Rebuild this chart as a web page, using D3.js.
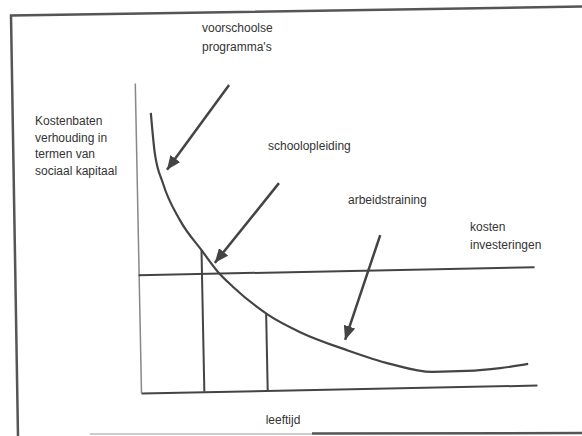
<!DOCTYPE html>
<html>
<head>
<meta charset="utf-8">
<script src="https://cdn.jsdelivr.net/npm/d3@7"></script>
<style>
  body { margin: 0; background: #fff; }
  text { font-family: "Liberation Sans", Arial, sans-serif; font-size: 12px; fill: #333; }
</style>
</head>
<body>
<div id="chart"></div>
<script>
// curve: return on investment by age
const ages = [3.9, 4.7, 6.6, 10.7, 16.1, 20.0, 23.8, 32.5, 40.5, 52.2, 63.0, 73.8, 82.4, 90.8, 97.9];
const returns = [90.3, 77.3, 67.5, 55.5, 45.5, 38.6, 33.6, 24.4, 18.6, 12.5, 7.8, 4.9, 5.0, 5.7, 6.9];
const costLevel = 38;
const stageAges = [16, 32];

// annotation arrows, in data units
const arrowFrom = [[23.8, 98.8], [35.9, 66.8], [61.2, 49.4]];
const arrowTo = [[7.7, 71.8], [19.3, 41.5], [51.8, 15.8]];

const yLabel = ["Kostenbaten", "verhouding in", "termen van", "sociaal kapitaal"];
const stageLabels = [["voorschoolse", "programma's"], ["schoolopleiding"], ["arbeidstraining"]];
const costLabel = ["kosten", "investeringen"];
const xLabel = "leeftijd";

const width = 582, height = 436;
const ink = "#444";

const svg = d3.select("#chart").append("svg")
    .attr("width", width)
    .attr("height", height);

svg.append("defs").append("marker")
    .attr("id", "head")
    .attr("markerUnits", "userSpaceOnUse")
    .attr("markerWidth", 14).attr("markerHeight", 12)
    .attr("refX", 14).attr("refY", 6)
    .attr("orient", "auto")
    .append("path")
    .attr("d", "M0,0 L14,6 L0,12 z")
    .attr("fill", ink);

// scanned page frame
svg.append("path")
    .attr("d", "M18,436 L11,15.5 L582,6.5")
    .attr("fill", "none").attr("stroke", "#555").attr("stroke-width", 2.5);
svg.append("path")
    .attr("d", "M90,434 L312,434")
    .attr("stroke", "#bbb").attr("stroke-width", 1.5);
svg.append("path")
    .attr("d", "M312,433.5 L582,433")
    .attr("stroke", "#555").attr("stroke-width", 2.5);

const x = d3.scaleLinear().domain([0, 100]).range([141, 537]);
const y = d3.scaleLinear().domain([0, 100]).range([393, 83]);

// the scan is slightly tilted
const plot = svg.append("g").attr("transform", "rotate(-1.15, 141, 393)");

plot.append("g")
    .attr("transform", `translate(0,${y(0)})`)
    .call(d3.axisBottom(x).ticks(0).tickSizeOuter(0))
    .call(g => g.select(".domain").attr("stroke", ink).attr("stroke-width", 2));

plot.append("g")
    .attr("transform", `translate(${x(0)},0)`)
    .call(d3.axisLeft(y).ticks(0).tickSizeOuter(0))
    .call(g => g.select(".domain").attr("stroke", "#888").attr("stroke-width", 1.5));

// cost line
plot.append("line")
    .attr("x1", x(0)).attr("x2", x(100))
    .attr("y1", y(costLevel)).attr("y2", y(costLevel))
    .attr("stroke", ink).attr("stroke-width", 2);

const curveData = ages.map((a, i) => ({age: a, value: returns[i]}));
const bisect = d3.bisector(d => d.age).left;
function curveAt(a) {
    const i = Math.max(1, Math.min(curveData.length - 1, bisect(curveData, a)));
    const p = curveData[i - 1], q = curveData[i];
    return p.value + (q.value - p.value) * (a - p.age) / (q.age - p.age);
}

plot.selectAll(".stage")
    .data(stageAges)
    .enter()
    .append("line")
    .attr("class", "stage")
    .attr("x1", d => x(d)).attr("x2", d => x(d))
    .attr("y1", y(0)).attr("y2", d => y(curveAt(d)))
    .attr("stroke", ink).attr("stroke-width", 2);

plot.append("path")
    .datum(curveData)
    .attr("fill", "none")
    .attr("stroke", ink)
    .attr("stroke-width", 2.2)
    .attr("d", d3.line().x(d => x(d.age)).y(d => y(d.value)).curve(d3.curveMonotoneX));

plot.selectAll(".arrow")
    .data(arrowFrom)
    .enter()
    .append("line")
    .attr("class", "arrow")
    .attr("x1", d => x(d[0])).attr("y1", d => y(d[1]))
    .attr("x2", (d, i) => x(arrowTo[i][0])).attr("y2", (d, i) => y(arrowTo[i][1]))
    .attr("stroke", ink).attr("stroke-width", 2.5)
    .attr("marker-end", "url(#head)");

// labels
function block(lines, x0, y0, dy, anchor) {
    svg.append("text")
        .attr("text-anchor", anchor || "start")
        .selectAll("tspan")
        .data(lines)
        .enter()
        .append("tspan")
        .attr("x", x0)
        .attr("y", (d, i) => y0 + i * dy)
        .text(d => d);
}

block(yLabel, 35, 125, 16.7);
block(stageLabels[0], 202, 32, 19);
block(stageLabels[1], 268, 150, 18);
block(stageLabels[2], 348, 204, 18);
block(costLabel, 470, 231, 18);
block([xLabel], 283, 424, 0, "middle");
</script>
</body>
</html>
